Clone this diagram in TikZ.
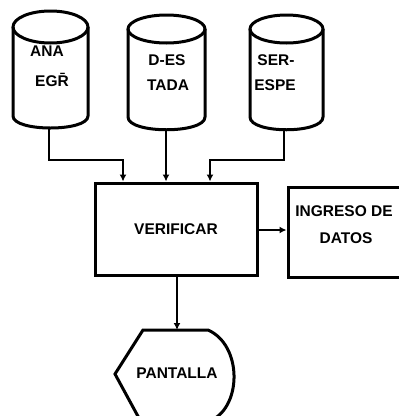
\documentclass[tikz,border=0pt]{standalone}
\usepackage{fontspec}
\setmainfont{Liberation Sans}
\usetikzlibrary{arrows.meta}
\begin{document}
\begin{tikzpicture}[x=1pt,y=-1pt,
  thick line/.style={line width=3pt},
  conn/.style={line width=1.6pt,-{Latex[length=7pt,width=7pt]}},
  lbl/.style={font=\bfseries\fontsize{15.5}{17}\selectfont,inner sep=0pt},
  boxnode/.style={draw,line width=3pt}]
\useasboundingbox (0,0) rectangle (399,416);
\clip (0,0) rectangle (399,416);
% cylinders
\draw[thick line] (13,27) -- (13,116) .. controls (13,132) and (88,132) .. (88,116) -- (88,27);
\draw[thick line] (50.5,27) ellipse [x radius=37.5, y radius=16];
\draw[thick line] (128,29) -- (128,117) .. controls (128,134) and (205,134) .. (205,117) -- (205,29);
\draw[thick line] (166.5,29) ellipse [x radius=38.5, y radius=14];
\draw[thick line] (250,29) -- (250,117) .. controls (250,134) and (323,134) .. (323,117) -- (323,29);
\draw[thick line] (286.5,29) ellipse [x radius=36.5, y radius=14];
\node[lbl] (c1a) at (47,51) {ANA};
\node[lbl] (c1b) at (52,80) {EG\=R};
\node[lbl] (c2a) at (167,60) {D-ES};
\node[lbl] (c2b) at (168,85) {TADA};
\node[lbl] (c3a) at (276,60) {SER-};
\node[lbl] (c3b) at (275,85) {ESPE};
\coordinate (b1) at (49,128);
\coordinate (b2) at (166,130);
\coordinate (b3) at (284,130);
\coordinate (j1) at (123,160);
\coordinate (j3) at (210,160);
% boxes
\node[boxnode,lbl,minimum width=162pt,minimum height=92pt] (ver) at (176,229) {VERIFICAR};
\node[boxnode,minimum width=117pt,minimum height=90pt] (ing) at (346.5,232) {};
\node[lbl] (ing1) at (344,211) {INGRESO DE};
\node[lbl] (ing2) at (346,238) {DATOS};
% pantalla
\coordinate (pantop) at (177,330);
\draw[thick line] (143,330) -- (208,330) .. controls (242,345) and (242,405) .. (212,420) -- (140,420) -- (115,374) -- cycle;
\node[lbl] (pan) at (177,373) {PANTALLA};
% connectors
\draw[conn] (b1) |- (j1) -- (j1 |- ver.north);
\draw[conn] (b2) -- (b2 |- ver.north);
\draw[conn] (b3) |- (j3) -- (j3 |- ver.north);
\draw[conn] (ver.east |- 0,230) -- (ing.west |- 0,230);
\draw[conn] (ver.south -| pantop) -- (pantop);
\end{tikzpicture}
\end{document}
